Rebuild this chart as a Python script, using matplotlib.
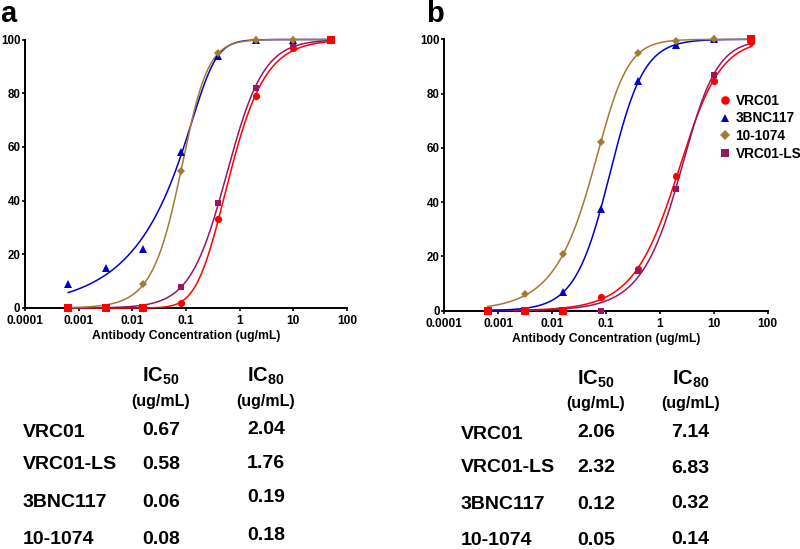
import numpy as np
import matplotlib
matplotlib.use("Agg")
import matplotlib.pyplot as plt
from matplotlib.lines import Line2D

plt.rcParams['font.family'] = ['Liberation Sans', 'DejaVu Sans']
plt.rcParams['font.weight'] = 'bold'
plt.rcParams['mathtext.fontset'] = 'custom'
plt.rcParams['mathtext.rm'] = 'Liberation Sans:bold'
plt.rcParams['mathtext.it'] = 'Liberation Sans:bold'
plt.rcParams['mathtext.bf'] = 'Liberation Sans:bold'
plt.rcParams['mathtext.default'] = 'rm'

# ---------------- data ----------------
conc = [0.00064, 0.0032, 0.016, 0.08, 0.4, 2, 10, 50]
series_names = ["VRC01", "3BNC117", "10-1074", "VRC01-LS"]

vrc01_a = [0, 0, 0, 2, 33, 79, 97, 100]
bnc117_a = [9, 15, 22, 58, 94, 100, 100, 100]
t1074_a = [0, 0, 9, 51, 95, 100, 100, 100]
vrc01ls_a = [0, 0, 0, 8, 39, 82, 98.5, 100]

vrc01_b = [0, 0, 0, 5, 15.5, 49.5, 84.5, 99]
bnc117_b = [0, 0, 7, 37.5, 84.5, 98, 100, 100]
t1074_b = [0, 6, 21, 62, 95, 99.5, 100, 100]
vrc01ls_b = [0, 0, 0, 0, 14.5, 45, 87, 100]

table_rows = ["VRC01", "VRC01-LS", "3BNC117", "10-1074"]
ic50_a = ["0.67", "0.58", "0.06", "0.08"]
ic80_a = ["2.04", "1.76", "0.19", "0.18"]
ic50_b = ["2.06", "2.32", "0.12", "0.05"]
ic80_b = ["7.14", "6.83", "0.32", "0.14"]

xticks = [0.0001, 0.001, 0.01, 0.1, 1, 10, 100]
xtick_labels = ["0.0001", "0.001", "0.01", "0.1", "1", "10", "100"]
yticks = [0, 20, 40, 60, 80, 100]

# ---------------- styles ----------------
colors = {"VRC01": "#ff0000", "3BNC117": "#0000cc", "10-1074": "#a27a35", "VRC01-LS": "#9b1460"}
markers = {"VRC01": "o", "3BNC117": "^", "10-1074": "D", "VRC01-LS": "s"}
msizes = {"VRC01": 5.2, "3BNC117": 5.2, "10-1074": 4.0, "VRC01-LS": 5.0}
red_square_idx = [0, 1, 2, 7]


def fit_logistic(x, y):
    """Least-squares asymmetric logistic fit (bottom 0, top 100) by grid search."""
    lx = np.log10(np.asarray(x, float))
    y = np.asarray(y, float)
    lcs = np.arange(-3.5, 2.0, 0.01)[:, None, None]
    hs = np.arange(0.3, 4.0, 0.02)[None, :, None]
    best = (np.inf, None)
    with np.errstate(over='ignore', under='ignore', divide='ignore', invalid='ignore'):
        for ls in np.arange(-1.6, 1.6, 0.05):
            s = np.exp(ls)
            g = (1.0 + 10.0 ** ((lcs - lx[None, None, :]) * hs)) ** (-s)
            sse = np.sum((y - 100.0 * g) ** 2, axis=2)
            sse = np.nan_to_num(sse, nan=np.inf)
            i = np.unravel_index(np.argmin(sse), sse.shape)
            if sse[i] < best[0]:
                best = (sse[i], (lcs[i[0], 0, 0], hs[0, i[1], 0], s))
    return best[1]


def curve(params, xs):
    lc, h, s = params
    lx = np.log10(xs)
    return 100.0 / (1.0 + 10.0 ** ((lc - lx) * h)) ** s


W, H = 800, 549
fig = plt.figure(figsize=(8, 5.49), dpi=100)
ax_a = fig.add_axes([25 / W, 1 - 308 / H, 322 / W, 268.5 / H])
ax_b = fig.add_axes([444.3 / W, 1 - 310.7 / H, 323.4 / W, 271.4 / H])

panels = [
    (ax_a, {"VRC01": vrc01_a, "3BNC117": bnc117_a, "10-1074": t1074_a, "VRC01-LS": vrc01ls_a}),
    (ax_b, {"VRC01": vrc01_b, "3BNC117": bnc117_b, "10-1074": t1074_b, "VRC01-LS": vrc01ls_b}),
]

xs_fine = np.logspace(np.log10(conc[0]), np.log10(conc[-1]), 400)
zorders = {"VRC01": 3, "VRC01-LS": 4, "3BNC117": 5, "10-1074": 6}
for ax, data in panels:
    for name in ["VRC01", "VRC01-LS", "3BNC117", "10-1074"]:
        vals = data[name]
        p = fit_logistic(conc, vals)
        ax.plot(xs_fine, curve(p, xs_fine), color=colors[name], lw=1.1, zorder=zorders[name], clip_on=False)
        ax.plot(conc, vals, linestyle='none', marker=markers[name], color=colors[name],
                markersize=msizes[name], markeredgewidth=0, zorder=zorders[name] + 4, clip_on=False)
    xr = [conc[i] for i in red_square_idx]
    yr = [data["VRC01"][i] if i < 7 else 100 for i in red_square_idx]
    ax.plot(xr, yr, linestyle='none', marker='s', color=colors["VRC01"], markersize=5.4,
            markeredgewidth=0, zorder=20, clip_on=False)

    ax.set_xscale('log')
    ax.set_xlim(1e-4, 100)
    ax.set_ylim(0, 100)
    ax.set_xticks(xticks)
    ax.set_xticklabels(xtick_labels)
    ax.xaxis.set_minor_locator(matplotlib.ticker.NullLocator())
    ax.set_yticks(yticks)
    ax.set_yticklabels([str(v) for v in yticks])
    for sp in ["top", "right"]:
        ax.spines[sp].set_visible(False)
    for sp in ["left", "bottom"]:
        ax.spines[sp].set_linewidth(1.4)
    ax.tick_params(axis='x', direction='out', length=2.5, width=1.2, labelsize=8.6, pad=2.6)
    ax.tick_params(axis='y', direction='out', length=2.5, width=1.2, labelsize=8.3, pad=0.8)
    for lab in ax.get_xticklabels() + ax.get_yticklabels():
        lab.set_fontweight('bold')
    ax.set_xlabel("Antibody Concentration (ug/mL)", fontsize=8.8, fontweight='bold', labelpad=2)
    ax.patch.set_alpha(0)

# legend on panel b
handles = [Line2D([], [], linestyle='none', marker=markers[n], color=colors[n],
                  markersize=msizes[n] + 1, markeredgewidth=0) for n in series_names]
ax_b.legend(handles, series_names, loc='upper left', bbox_to_anchor=(0.848, 0.80),
            frameon=False, handlelength=0.9, handletextpad=0.35,
            labelspacing=0.28, borderpad=0, borderaxespad=0,
            prop={'weight': 'bold', 'size': 9.8})

# panel letters
fig.text(0 / W, 1 - 22 / H, "a", fontsize=21, fontweight='bold', ha='left', va='baseline')
fig.text(426 / W, 1 - 22 / H, "b", fontsize=21, fontweight='bold', ha='left', va='baseline')


def fx(px):
    return px / W


def fy(py):
    return 1 - py / H


def table(label_x, c50_x, c80_x, head_y, unit_y, row_ys, v50_ys, v80_ys, v50, v80):
    fig.text(fx(c50_x), fy(head_y), r"IC$_{50}$", fontsize=14.5, ha='center', va='baseline')
    fig.text(fx(c80_x), fy(head_y), r"IC$_{80}$", fontsize=14.5, ha='center', va='baseline')
    fig.text(fx(c50_x), fy(unit_y), "(ug/mL)", fontsize=11.5, fontweight='bold', ha='center', va='baseline')
    fig.text(fx(c80_x), fy(unit_y), "(ug/mL)", fontsize=11.5, fontweight='bold', ha='center', va='baseline')
    for name, ry, y50, y80, a, b in zip(table_rows, row_ys, v50_ys, v80_ys, v50, v80):
        fig.text(fx(label_x), fy(ry), name, fontsize=14, fontweight='bold', ha='left', va='baseline')
        fig.text(fx(c50_x), fy(y50), a, fontsize=14, fontweight='bold', ha='center', va='baseline')
        fig.text(fx(c80_x), fy(y80), b, fontsize=14, fontweight='bold', ha='center', va='baseline')


table(23, 161, 266, 381.7, 406, [437.3, 469.3, 506.7, 543.5], [435, 469.3, 506.7, 544.5],
      [434.3, 468.3, 501.7, 540.5], ic50_a, ic80_a)
table(461, 596, 690.5, 385, 408.3, [439.3, 471.7, 509.3, 545], [436.7, 471.7, 509.3, 545],
      [436.7, 472.7, 508.3, 543.5], ic50_b, ic80_b)

fig.savefig("out.png", dpi=100)
